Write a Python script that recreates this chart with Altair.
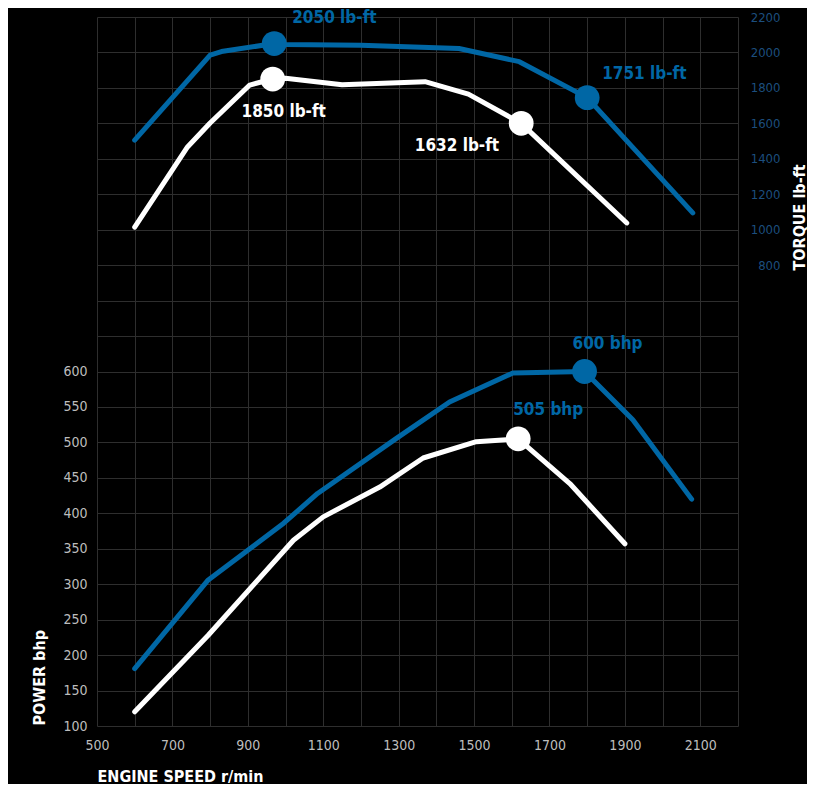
import altair as alt
import pandas as pd

# ---- data ----
rpm_torque_blue = [600, 800, 830, 970, 1000, 1200, 1460, 1620, 1800, 2080]
torque_blue = [1505, 1985, 2005, 2050, 2045, 2040, 2022, 1948, 1745, 1095]

rpm_torque_white = [600, 740, 800, 905, 966, 1000, 1150, 1370, 1485, 1625, 1905]
torque_white = [1015, 1467, 1602, 1816, 1850, 1855, 1818, 1835, 1765, 1600, 1038]

rpm_power_blue = [600, 795, 900, 995, 1085, 1295, 1435, 1603, 1793, 1921, 2077]
power_blue = [181, 306, 348, 386, 428, 506, 557, 598, 600, 532, 420]

rpm_power_white = [600, 795, 1021, 1100, 1250, 1365, 1506, 1617, 1754, 1900]
power_white = [120, 228, 362, 395, 437, 478, 501, 505, 442, 357]

peak_torque_rpm = [970, 1800, 966, 1625]
peak_torque_val = [2050, 1745, 1850, 1600]
peak_torque_series = ["blue", "blue", "white", "white"]
peak_torque_label = ["2050 lb-ft", "1751 lb-ft", "1850 lb-ft", "1632 lb-ft"]

peak_power_rpm = [1793, 1617]
peak_power_val = [600, 505]
peak_power_series = ["blue", "white"]
peak_power_label = ["600 bhp", "505 bhp"]

x_ticks = list(range(500, 2201, 100))
power_ticks = list(range(100, 1101, 50))
torque_ticks = list(range(800, 2201, 200))

BLUE = "#0067a5"
GRID = "#2e2e2e"
FONT = "Liberation Sans Narrow, DejaVu Sans Condensed, sans-serif"

power_df = pd.concat([
    pd.DataFrame({"rpm": rpm_power_blue, "power": power_blue, "series": "blue"}),
    pd.DataFrame({"rpm": rpm_power_white, "power": power_white, "series": "white"}),
])
torque_df = pd.concat([
    pd.DataFrame({"rpm": rpm_torque_blue, "torque": torque_blue, "series": "blue"}),
    pd.DataFrame({"rpm": rpm_torque_white, "torque": torque_white, "series": "white"}),
])
power_peaks = pd.DataFrame({"rpm": peak_power_rpm, "power": peak_power_val,
                            "series": peak_power_series, "label": peak_power_label})
torque_peaks = pd.DataFrame({"rpm": peak_torque_rpm, "torque": peak_torque_val,
                             "series": peak_torque_series, "label": peak_torque_label})

color = alt.Color("series:N", scale=alt.Scale(domain=["blue", "white"], range=[BLUE, "#ffffff"]), legend=None)

x_enc = alt.X(
    "rpm:Q",
    scale=alt.Scale(domain=[500, 2200], nice=False, zero=False),
    axis=alt.Axis(
        values=x_ticks, format="d",
        labelExpr="(datum.value - 500) % 200 == 0 ? datum.label : ''",
        grid=True, gridColor=GRID, gridWidth=1,
        ticks=False, tickSize=0, domain=False,
        labelColor="#bdbdbd", labelFontSize=14, labelFont=FONT, labelPadding=12,
        labelFlush=False,
        title="ENGINE SPEED r/min", titleColor="#ffffff", titleFont=FONT,
        titleFontSize=16, titleFontWeight="bold",
        titleX=0, titleY=55, titleAlign="left", titleBaseline="alphabetic",
    ),
)

y_power = alt.Y(
    "power:Q",
    scale=alt.Scale(domain=[100, 1100], nice=False, zero=False),
    axis=alt.Axis(
        values=power_ticks, format="d",
        labelExpr="datum.value <= 600 ? datum.label : ''",
        grid=True, gridColor=GRID, gridWidth=1,
        ticks=False, tickSize=0, domain=False,
        labelColor="#bdbdbd", labelFontSize=14, labelFont=FONT, labelPadding=10,
        labelFlush=False,
        title="POWER bhp", titleColor="#ffffff", titleFont=FONT,
        titleFontSize=16, titleFontWeight="bold",
        titleAngle=270, titleX=-53, titleY=708, titleAlign="left", titleBaseline="alphabetic",
    ),
)

y_torque = alt.Y(
    "torque:Q",
    scale=alt.Scale(domain=[-1800, 2200], nice=False, zero=False),
    axis=alt.Axis(
        orient="right",
        values=torque_ticks, format="d",
        grid=False, ticks=False, tickSize=0, domain=False,
        labelColor="#1c4e7e", labelFontSize=13, labelFont=FONT,
        labelAlign="right", labelPadding=42, labelFlush=False,
        title="TORQUE lb-ft", titleColor="#ffffff", titleFont=FONT,
        titleFontSize=16, titleFontWeight="bold",
        titleAngle=270, titleX=66, titleY=253, titleAlign="left", titleBaseline="alphabetic",
    ),
)

line_style = dict(strokeWidth=5, strokeCap="round", strokeJoin="round")

power_lines = alt.Chart(power_df).mark_line(**line_style).encode(x=x_enc, y=y_power, color=color, detail="series:N")
power_pts = alt.Chart(power_peaks).mark_point(filled=True, size=615, opacity=1, strokeWidth=0).encode(
    x=x_enc, y=y_power, color=color)


def note(df, yenc, label, col, dx, dy, align):
    return alt.Chart(df).transform_filter(alt.datum.label == label).mark_text(
        font=FONT, fontSize=17, fontWeight="bold", color=col,
        dx=dx, dy=dy, align=align, baseline="middle",
    ).encode(x=x_enc, y=yenc, text="label:N")


power_layer = alt.layer(
    power_lines, power_pts,
    note(power_peaks, y_power, "600 bhp", BLUE, -12, -28, "left"),
    note(power_peaks, y_power, "505 bhp", BLUE, -5, -29, "left"),
)

torque_lines = alt.Chart(torque_df).mark_line(**line_style).encode(x=x_enc, y=y_torque, color=color, detail="series:N")
torque_pts = alt.Chart(torque_peaks).mark_point(filled=True, size=615, opacity=1, strokeWidth=0).encode(
    x=x_enc, y=y_torque, color=color)

torque_layer = alt.layer(
    torque_lines, torque_pts,
    note(torque_peaks, y_torque, "2050 lb-ft", BLUE, 18, -26, "left"),
    note(torque_peaks, y_torque, "1751 lb-ft", BLUE, 15, -24, "left"),
    note(torque_peaks, y_torque, "1850 lb-ft", "#ffffff", 11, 33, "center"),
    note(torque_peaks, y_torque, "1632 lb-ft", "#ffffff", -22, 23, "right"),
)

chart = alt.layer(power_layer, torque_layer).resolve_scale(y="independent").properties(
    width=641, height=709,
    background="#000000",
    autosize="none",
    padding={"left": 89, "top": 9, "right": 69, "bottom": 58},
).configure_view(stroke=None)

chart.save("out.html", embed_options={"renderer": "svg", "actions": False})
